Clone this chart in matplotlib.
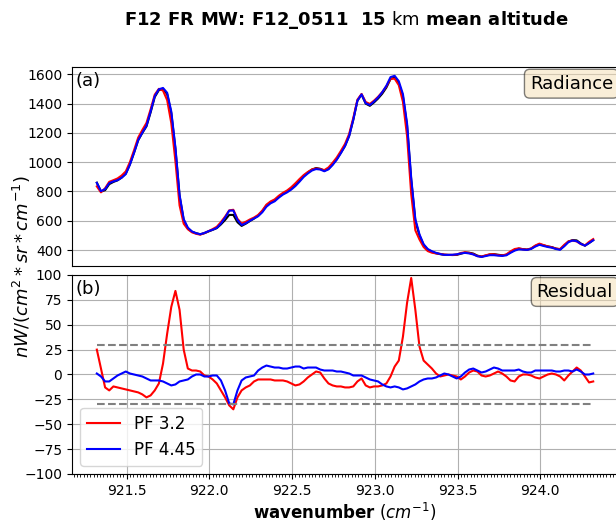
import numpy as np
import matplotlib
matplotlib.use("Agg")
from matplotlib import pyplot as plt
from matplotlib.ticker import MultipleLocator

# grille spectrale (pas 0.025 cm-1)
wn_start, wn_step, n_pts = 921.32, 0.025, 121
wavenumber = wn_start + wn_step * np.arange(n_pts)

# radiance observee (nW/(cm2 sr cm-1))
radiance_obs = [
    860, 800, 809, 850, 865, 876, 895, 922, 985, 1065,
    1150, 1200, 1245, 1340, 1445, 1492, 1500, 1465, 1335, 1090,
    770, 605, 548, 525, 515, 508, 515, 527, 538, 550,
    575, 605, 640, 640, 590, 565, 580, 598, 615, 635,
    665, 705, 727, 740, 765, 785, 800, 820, 845, 875,
    905, 930, 950, 960, 955, 942, 955, 985, 1020, 1065,
    1112, 1180, 1290, 1420, 1462, 1400, 1385, 1408, 1435, 1468,
    1510, 1568, 1578, 1540, 1450, 1250, 880, 600, 500, 435,
    403, 388, 378, 372, 368, 367, 366, 367, 375, 383,
    382, 376, 362, 355, 362, 370, 372, 368, 364, 368,
    385, 400, 410, 406, 403, 410, 428, 440, 432, 425,
    420, 410, 405, 430, 458, 468, 466, 445, 430, 448,
    468,
]

# residus obs - calcul
residual_pf32 = [
    25, 6, -13, -16, -12, -13, -14, -15, -16, -17,
    -18, -20, -23, -21, -16, -9, 11, 41, 68, 84,
    65, 25, 6, 4, 4, 3, -1, -2, -5, -9,
    -16, -23, -31, -35, -23, -16, -13, -11, -7, -5,
    -5, -5, -5, -6, -6, -6, -7, -9, -11, -10,
    -7, -3, 0, 3, 2, -4, -9, -11, -12, -12,
    -13, -13, -12, -7, -4, -11, -13, -12, -12, -11,
    -9, -2, 8, 14, 38, 72, 97, 65, 28, 14,
    10, 6, 1, -2, -1, 0, -1, -2, -5, -2,
    2, 4, 3, -1, -2, -1, 1, 3, 1, -2,
    -6, -7, -2, 0, 0, -1, -3, -4, -2, 0,
    1, 0, -2, -6, -1, 3, 7, 4, -2, -8,
    -7,
]
residual_pf445 = [
    1, -2, -7, -7, -4, -1, 1, 3, 1, 0,
    -1, -2, -4, -6, -6, -6, -7, -9, -11, -10,
    -7, -6, -5, -2, 0, 0, -2, -2, -1, -1,
    -6, -16, -29, -30, -16, -6, -3, -2, -1, 4,
    7, 9, 8, 7, 7, 6, 6, 7, 8, 8,
    6, 7, 7, 7, 5, 4, 4, 4, 3, 3,
    2, 1, -1, -1, -1, -3, -5, -6, -7, -10,
    -12, -13, -12, -13, -15, -14, -12, -10, -7, -5,
    -4, -4, -3, -1, 1, 0, -2, -4, -2, 2,
    5, 6, 4, 2, 3, 5, 7, 6, 4, 4,
    4, 4, 5, 3, 2, 2, 4, 4, 4, 4,
    4, 3, 3, 4, 4, 3, 5, 3, 0, 0,
    1,
]
noise_level = 29.5

obs = np.array(radiance_obs, dtype=float)
calc_pf32 = obs - np.array(residual_pf32)
calc_pf445 = obs - np.array(residual_pf445)

fig = plt.figure(figsize=(6.16, 5.23), dpi=100)
ax1 = fig.add_axes([0.1169, 0.4914, 0.8864, 0.381])
ax2 = fig.add_axes([0.1169, 0.0937, 0.8864, 0.3805])

# panneau (a) : radiances
ax1.plot(wavenumber, obs, color="k")
ax1.plot(wavenumber, calc_pf32, color="red")
ax1.plot(wavenumber, calc_pf445, color="blue")
ax1.set_xticks([])
ax1.grid(True, axis="y")
ax1.text(0.007, 0.975, "(a)", transform=ax1.transAxes, fontsize=13, va="top")
ax1.text(0.991, 0.96, "Radiance", transform=ax1.transAxes, fontsize=13,
         ha="right", va="top",
         bbox=dict(boxstyle="round", facecolor="wheat", alpha=0.5))

# panneau (b) : residus
ax2.plot(wavenumber, residual_pf32, color="red", label="PF 3.2")
ax2.plot(wavenumber, residual_pf445, color="blue", label="PF 4.45")
ax2.hlines([noise_level, -noise_level], wavenumber[0], wavenumber[-1],
           colors="gray", linestyles="--")
ax2.set_ylim(-100, 100)
ax2.set_yticks(np.arange(-100, 101, 25))
ax2.set_xlim(ax1.get_xlim())
ax2.xaxis.set_minor_locator(MultipleLocator(0.02))
ax2.grid(True)
ax2.legend(loc="lower left", fontsize=12)
ax2.text(0.007, 0.975, "(b)", transform=ax2.transAxes, fontsize=13, va="top")
ax2.text(0.991, 0.96, "Residual", transform=ax2.transAxes, fontsize=13,
         ha="right", va="top",
         bbox=dict(boxstyle="round", facecolor="wheat", alpha=0.5))
ax2.set_xlabel(r"$\bf{wavenumber}$ $(cm^{-1})$", fontsize=12, labelpad=2)

fig.text(0.035, 0.49, r"$nW/(cm^2*sr*cm^{-1})$", rotation=90,
         fontsize=13, ha="center", va="center")
fig.text(0.562, 0.962, r"F12 FR MW: F12_0511  15 $\mathrm{km}$ mean altitude",
         fontsize=13, fontweight="bold", ha="center", va="center")

fig.savefig("out.png", dpi=100)
